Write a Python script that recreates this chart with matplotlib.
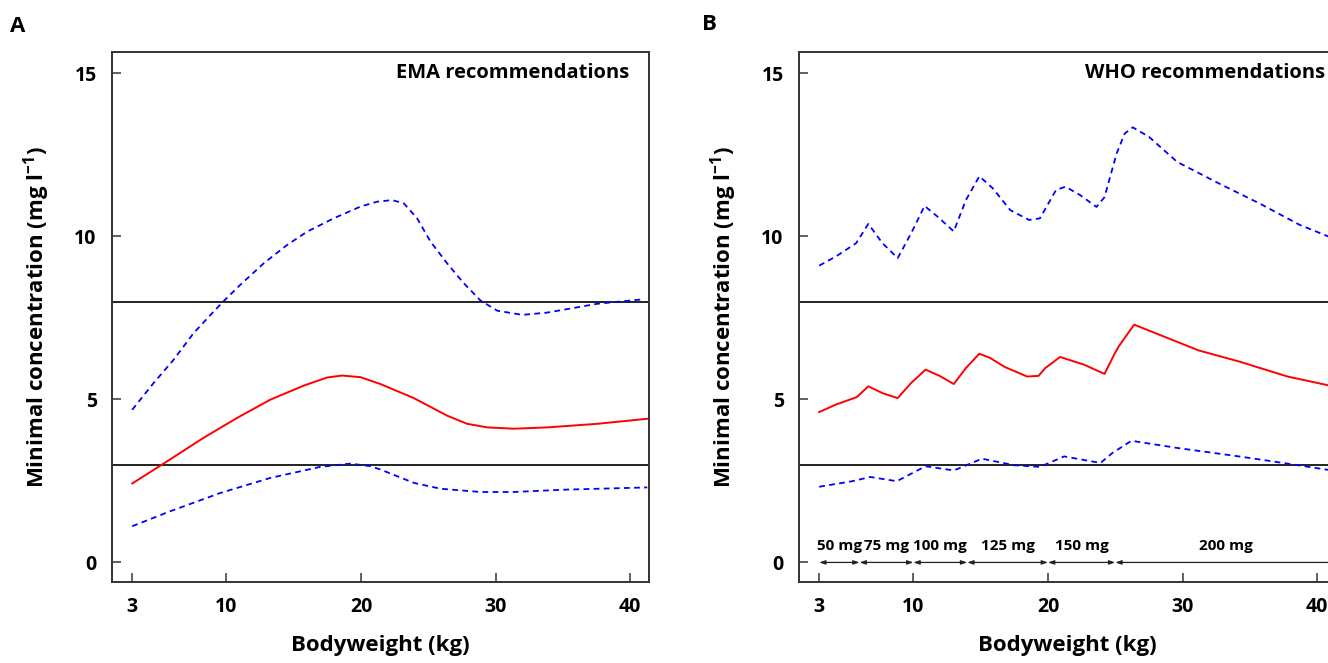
import matplotlib
matplotlib.use('Agg')
import matplotlib.pyplot as plt
import numpy as np

plt.rcParams['font.family'] = ['Open Sans', 'DejaVu Sans']
plt.rcParams['font.weight'] = 'bold'
plt.rcParams['mathtext.default'] = 'regular'

# EMA dosing: median and 90% interval of minimal concentration vs bodyweight
ema_wt_med = [3, 5.33, 8.3, 10.79, 13.26, 15.74, 17.48, 18.59, 19.96, 21.44, 23.92,
              26.4, 27.89, 29.38, 31.35, 33.84, 37.55, 41.39]
ema_med    = [2.42, 3.03, 3.82, 4.43, 4.99, 5.42, 5.67, 5.73, 5.68, 5.47, 5.04,
              4.50, 4.25, 4.14, 4.10, 4.14, 4.25, 4.41]

ema_wt_hi = [3, 4.59, 6.07, 7.56, 9.05, 9.84, 11.03, 12.77, 14.5, 15.99, 17.97, 19.96, 21.2, 22.31,
             23.18, 24.17, 25.16, 26.4, 27.64, 28.88, 30.12, 31.98, 33.84, 37.55, 41.02]
ema_hi    = [4.68, 5.50, 6.21, 7.03, 7.69, 8.03, 8.51, 9.17, 9.73, 10.14, 10.55, 10.91, 11.06, 11.11,
             11.01, 10.55, 9.84, 9.17, 8.56, 8.03, 7.72, 7.59, 7.66, 7.93, 8.07]

ema_wt_lo = [3, 5.83, 9.55, 13.26, 16.98, 19.21, 20.7, 21.44, 23.92, 25.9, 28.88, 31.35, 35.07, 41.27]
ema_lo    = [1.11, 1.57, 2.13, 2.59, 2.93, 3.03, 2.95, 2.85, 2.44, 2.26, 2.16, 2.16, 2.23, 2.30]

# WHO dosing
who_wt_hi = [3, 4.24, 5.75, 6.65, 7.7, 8.83, 9.83, 10.83, 11.8, 13.0, 13.9, 14.9, 15.9, 17.2, 18.6, 19.4,
             20.6, 21.3, 22.4, 23.6, 24.2, 25.1, 25.7, 26.3, 27.5, 29.6, 32.7, 35.7, 38.7, 41.4]
who_hi    = [9.1, 9.38, 9.79, 10.38, 9.79, 9.33, 10.09, 10.93, 10.6, 10.15, 11.11, 11.84, 11.47, 10.8, 10.5, 10.55,
             11.42, 11.52, 11.26, 10.9, 11.2, 12.54, 13.15, 13.34, 13.05, 12.28, 11.62, 11.01, 10.35, 9.9]

who_wt_med = [3, 4.24, 5.8, 6.65, 7.7, 8.83, 9.83, 10.9, 11.95, 13.0, 13.9, 14.9, 15.7, 16.8, 18.45, 19.3, 19.8,
              20.9, 22.7, 24.2, 24.95, 25.25, 26.4, 28.1, 31.2, 34.2, 37.8, 41.4]
who_med    = [4.61, 4.84, 5.07, 5.40, 5.19, 5.04, 5.50, 5.91, 5.72, 5.47, 5.96, 6.40, 6.27, 5.99, 5.70, 5.72, 5.96,
              6.30, 6.06, 5.78, 6.40, 6.62, 7.29, 7.01, 6.50, 6.16, 5.70, 5.38]

who_wt_lo = [3, 5.45, 6.8, 8.77, 10.9, 13.0, 15.1, 17.5, 19.4, 21.2, 23.9, 24.8, 26.2, 29.6, 34.2, 37.8, 41.4]
who_lo    = [2.32, 2.49, 2.62, 2.49, 2.95, 2.82, 3.18, 2.98, 2.93, 3.25, 3.05, 3.36, 3.73, 3.51, 3.25, 3.03, 2.80]

# therapeutic window
target_lo = 3
target_hi = 8

# WHO weight bands
band_edges = [3, 6, 10, 14, 20, 25, 41.5]
band_doses = ['50 mg', '75 mg', '100 mg', '125 mg', '150 mg', '200 mg']

xticks = [3, 10, 20, 30, 40]
yticks = [0, 5, 10, 15]

red = '#ff0000'
blue = '#0000ff'
dash = (0, (3.2, 2.4))

fig = plt.figure(figsize=(13.28, 6.63), dpi=100, facecolor='w')
axA = fig.add_axes([112/1328., 81/663., 537/1328., 530/663.])
axB = fig.add_axes([799/1328., 81/663., 537/1328., 530/663.])


def style(ax, title, tx):
    ax.axhline(target_hi, color='#222222', lw=1.4, zorder=1)
    ax.axhline(target_lo, color='#222222', lw=1.4, zorder=1)
    ax.set_xlim(1.5, 41.4)
    ax.set_ylim(-0.6, 15.65)
    ax.set_xticks(xticks)
    ax.set_yticks(yticks)
    ax.tick_params(direction='in', length=6.5, width=1.2, color='#444444', labelsize=14)
    ax.tick_params(axis='x', pad=11)
    ax.tick_params(axis='y', pad=11)
    for s in ax.spines.values():
        s.set_linewidth(1.4)
        s.set_color('#333333')
    ax.set_xlabel('Bodyweight (kg)', fontsize=16, fontweight='bold', labelpad=13)
    ax.set_ylabel('Minimal concentration (mg l$^{-1}$)', fontsize=16, fontweight='bold', labelpad=16)
    ax.text(tx, 15.0, title, ha='right', va='center', fontsize=14.5, fontweight='bold')


axA.plot(ema_wt_hi, ema_hi, color=blue, lw=1.3, ls=dash)
axA.plot(ema_wt_med, ema_med, color=red, lw=1.4)
axA.plot(ema_wt_lo, ema_lo, color=blue, lw=1.3, ls=dash)
style(axA, 'EMA recommendations', 39.9)

axB.plot(who_wt_hi, who_hi, color=blue, lw=1.3, ls=dash)
axB.plot(who_wt_med, who_med, color=red, lw=1.4)
axB.plot(who_wt_lo, who_lo, color=blue, lw=1.3, ls=dash)
style(axB, 'WHO recommendations', 40.6)

# dose bands for the WHO scheme
for i, dose in enumerate(band_doses):
    x0, x1 = band_edges[i], band_edges[i + 1]
    axB.annotate('', xy=(x1, 0), xytext=(x0, 0), annotation_clip=False,
                 arrowprops=dict(arrowstyle='<|-|>,head_length=0.35,head_width=0.12',
                                 color='#222222', lw=0.9, shrinkA=0, shrinkB=0))
    axB.text((x0 + x1) / 2., 0.5, dose, ha='center', va='center', fontsize=11, fontweight='bold')

fig.text(10/1328., 1 - 27/663., 'A', fontsize=16, fontweight='bold', va='center')
fig.text(702/1328., 1 - 25/663., 'B', fontsize=16, fontweight='bold', va='center')

fig.savefig('out.png', dpi=100)
